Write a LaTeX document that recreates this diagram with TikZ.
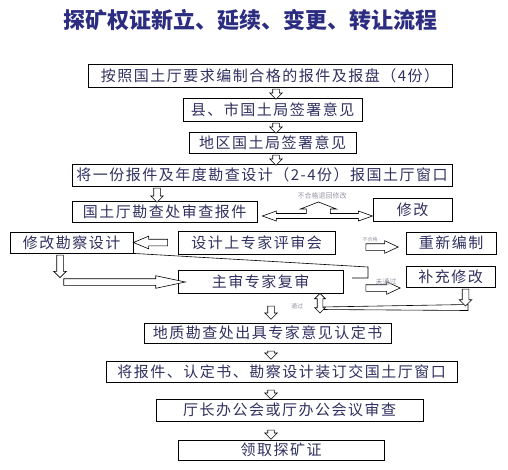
\documentclass[tikz,border=0pt]{standalone}
\usepackage{fontspec}
\newfontfamily\cjk[LetterSpace=10]{Noto Sans CJK SC}
\newfontfamily\cjktitle{Noto Sans CJK SC}
\usetikzlibrary{shapes.arrows,calc}
\definecolor{titleblue}{RGB}{44,44,128}
\definecolor{boxtext}{RGB}{48,48,96}
\definecolor{notegray}{RGB}{150,150,165}
\tikzset{
  stepbox/.style={draw, line width=0.8pt, inner sep=0pt, minimum height=22pt,
    text=boxtext, font=\cjk\fontsize{15}{15}\selectfont},
  note/.style={text=notegray, inner sep=0pt, font=\cjktitle\fontsize{#1}{#1}\selectfont},
  note/.default=6,
  hollow/.style={to path={let \p1=(\tikztostart), \p2=(\tikztotarget),
    \n1={veclen(\x2-\x1,\y2-\y1)} in (\tikztostart) -- (\tikztotarget)
    node[midway, sloped, allow upside down, single arrow, draw, fill=white, line width=0.6pt,
      inner xsep=0pt, inner ysep=3pt, minimum height=\n1,
      single arrow head extend=3pt, single arrow tip angle=#1] {}}},
  hollow/.default=90,
  hollowboth/.style={to path={let \p1=(\tikztostart), \p2=(\tikztotarget),
    \n1={veclen(\x2-\x1,\y2-\y1)} in (\tikztostart) -- (\tikztotarget)
    node[midway, sloped, allow upside down, double arrow, draw, fill=white, line width=0.6pt,
      inner xsep=0pt, inner ysep=2.5pt, minimum height=\n1,
      double arrow head extend=2.5pt, double arrow tip angle=90] {}}}
}
\begin{document}
\begin{tikzpicture}[x=1pt,y=-1pt]
    \useasboundingbox (0,0) rectangle (508,469);
    \node[font=\cjktitle\bfseries\fontsize{22}{22}\selectfont, text=titleblue] (title) at (250,20) {探矿权证新立、延续、变更、转让流程};

    \node[stepbox, minimum width=364pt, minimum height=23pt] (b1) at (270,75.5) {按照国土厅要求编制合格的报件及报盘（4份）};
    \node[stepbox, minimum width=179pt, minimum height=23pt] (b2) at (272.5,109.5) {县、市国土局签署意见};
    \node[stepbox, minimum width=167pt, minimum height=21pt] (b3) at (272.5,142.5) {地区国土局签署意见};
    \node[stepbox, minimum width=380pt] (b4) at (262,175) {将一份报件及年度勘查设计（2-4份）报国土厅窗口};
    \node[stepbox, minimum width=185pt, minimum height=21pt] (shencha) at (164.5,211.5) {国土厅勘查处审查报件};
    \node[stepbox, minimum width=79pt, minimum height=23pt] (xiugai) at (412.5,209.5) {修改};
    \node[stepbox, minimum width=123pt, minimum height=21pt] (sheji) at (71.5,242.5) {修改勘察设计};
    \node[stepbox, minimum width=157pt, minimum height=23pt] (pingshen) at (256.5,242.5) {设计上专家评审会};
    \node[stepbox, minimum width=90pt] (chongbian) at (451,243) {重新编制};
    \node[stepbox, minimum width=165pt, minimum height=23pt] (fushen) at (260.5,281.5) {主审专家复审};
    \node[stepbox, minimum width=89pt, minimum height=21pt] (buchong) at (450.5,276.5) {补充修改};
    \node[stepbox, minimum width=247pt, minimum height=20pt] (rending) at (267.5,333) {地质勘查处出具专家意见认定书};
    \node[stepbox, minimum width=351pt, minimum height=21pt] (zhuangding) at (281.5,371.5) {将报件、认定书、勘察设计装订交国土厅窗口};
    \node[stepbox, minimum width=267pt] (huiyi) at (289.5,410) {厅长办公会或厅办公会议审查};
    \node[stepbox, minimum width=206pt, minimum height=20pt] (lingqu) at (281,450) {领取探矿证};

    \foreach \a/\b in {b1/b2,b2/b3,b3/b4}
        \path (276,0 |- \a.south) to[hollow] (276,0 |- \b.north);
    \path (157,0 |- b4.south) to[hollow] (157,0 |- shencha.north);
    \foreach \a/\b/\s/\t in {fushen/rending/11/5,rending/zhuangding/6/3,zhuangding/huiyi/6/1,huiyi/lingqu/7/2}
        \path ($(271,0 |- \a.south)+(0,\s)$) to[hollow] ($(271,0 |- \b.north)-(0,\t)$);

    \draw[line width=0.6pt, fill=white] ([xshift=5pt,yshift=-4.5pt]shencha.east) -- ++(14,-5) -- ++(0,2.5)
        -- ++(30,0) -- ++(0,-4.5) -- ++(-6,0) -- ++(18,-7) -- ++(18,7) -- ++(-6,0) -- ++(0,4.5)
        -- ++(28,0) -- ++(0,-2.5) -- ++(14,5) -- ++(-14,5) -- ++(0,-2.5) -- ++(-82,0) -- ++(0,2.5) -- cycle;
    \node[note=7] (n1) at (322,196) {不合格退回修改};

    \path ([xshift=-6pt]pingshen.west) to[hollow=45] ([xshift=4pt]sheji.east);
    \path ([xshift=27pt,yshift=-4.5pt]pingshen.east) to[hollow=50] ([xshift=-11pt,yshift=-4pt]chongbian.west);
    \node[note=5] (n2) at (370,240) {不合格};

    \coordinate (corner) at (56,282);
    \path (60,0 |- sheji.south) to[hollow] ($(60,0 |- corner)-(0,6)$);
    \path (corner) to[hollow=24] (fushen.west |- corner);
    \coordinate (hook) at (352,278);
    \draw[line width=0.6pt] (sheji.south east) -- (368,267) |- (hook);

    \path ([xshift=19pt,yshift=-6.5pt]fushen.east) to[hollow=50] ([xshift=-9pt,yshift=-11.5pt]buchong.west);
    \node[note=7] (n3) at (386,282) {未通过};

    \draw[line width=0.6pt, fill=white] (321,307) -- (468,304.5) -- (468,310.5) -- (321,309.5) -- cycle;
    \path ([xshift=15pt]buchong.south) to[hollow] ([xshift=15pt,yshift=-17pt]buchong.south);
    \coordinate (back) at (320,313);
    \path (back |- fushen.south) to[hollowboth] (back);
    \node[note] (n4) at (297,306) {通过};
\end{tikzpicture}
\end{document}
